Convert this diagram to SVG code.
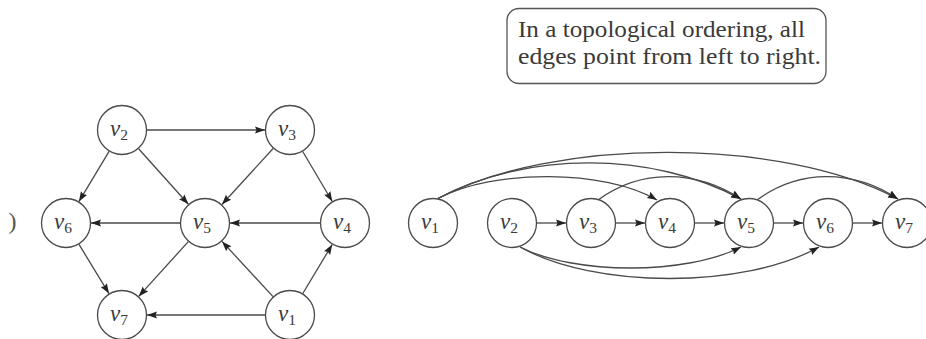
<svg xmlns="http://www.w3.org/2000/svg" width="926" height="339" viewBox="0 0 926 339">
  <style>
    .node circle { fill: #fff; stroke: #4a4a4a; stroke-width: 1.3; }
    .lbl { font-family: "Liberation Serif", "Times New Roman", serif; font-style: italic; font-size: 23px; fill: #3a3a3a; }
    .sub { font-style: normal; font-size: 15.5px; }
    .edges path, .edges line { fill: none; stroke: #4a4a4a; stroke-width: 1.3; marker-end: url(#arr); }
    .note rect { fill: #fff; stroke: #555; stroke-width: 1.3; }
    .note text { font-family: "Liberation Serif", "Times New Roman", serif; font-size: 22.5px; fill: #3a3a3a; }
    .cap { font-family: "Liberation Serif", "Times New Roman", serif; font-size: 24px; fill: #555; }
  </style>
  <defs>
    <marker id="arr" markerUnits="userSpaceOnUse" markerWidth="10" markerHeight="8" refX="10" refY="4" orient="auto">
      <path d="M0,0.4 L10,4 L0,7.6 L1.5,4 z" fill="#222"/>
    </marker>
  </defs>
  <rect width="926" height="339" fill="#fff"/>

  <!-- partial sub-figure caption at the left border -->
  <text class="cap" x="8.5" y="229">)</text>

  <!-- connectors -->
  <g class="edges" id="edges">
    <!-- left drawing: free layout -->
    <line x1="147" y1="130" x2="265" y2="130"/>
    <line x1="109.1" y1="151.4" x2="78.9" y2="201.6"/>
    <line x1="138.6" y1="148.7" x2="188.4" y2="204.3"/>
    <line x1="273.1" y1="148.5" x2="221.9" y2="204.5"/>
    <line x1="302.7" y1="151.5" x2="332.3" y2="201.5"/>
    <line x1="180" y1="223" x2="91" y2="223"/>
    <line x1="320" y1="223" x2="230" y2="223"/>
    <line x1="79" y1="244.4" x2="109" y2="293.6"/>
    <line x1="188.3" y1="241.6" x2="138.7" y2="296.4"/>
    <line x1="273" y1="296.6" x2="222" y2="241.4"/>
    <line x1="302.8" y1="293.5" x2="332.2" y2="244.5"/>
    <line x1="265" y1="315" x2="147" y2="315"/>

    <!-- right drawing: topological order, straight neighbours -->
    <line x1="537" y1="223" x2="566" y2="223"/>
    <line x1="616" y1="223" x2="645" y2="223"/>
    <line x1="695" y1="223" x2="724" y2="223"/>
    <line x1="774" y1="223" x2="803" y2="223"/>
    <line x1="853" y1="223" x2="882" y2="223"/>
    <!-- arcs above -->
    <path d="M438,198.5 C493,169 605,169 657,200"/>
    <path d="M438,198.5 C526,151 652,151 741,199"/>
    <path d="M438,198.5 C553,137 782,137 898,199"/>
    <path d="M598,200 C640,169 695,169 741,199"/>
    <path d="M757,200 C799,169 853,169 898,199"/>
    <!-- arcs below -->
    <path d="M520,247 C575,275 686,275 741,247"/>
    <path d="M520,247 C595,289 744,289 819,247"/>
  </g>

  <!-- left drawing nodes -->
  <g class="node" id="L-v1"><circle cx="290" cy="315" r="24.5"/><text class="lbl" x="278" y="321">v<tspan class="sub" dy="3.5">1</tspan></text></g>
  <g class="node" id="L-v2"><circle cx="122" cy="130" r="24.5"/><text class="lbl" x="110" y="136">v<tspan class="sub" dy="3.5">2</tspan></text></g>
  <g class="node" id="L-v3"><circle cx="290" cy="130" r="24.5"/><text class="lbl" x="278" y="136">v<tspan class="sub" dy="3.5">3</tspan></text></g>
  <g class="node" id="L-v4"><circle cx="345" cy="223" r="24.5"/><text class="lbl" x="333" y="229">v<tspan class="sub" dy="3.5">4</tspan></text></g>
  <g class="node" id="L-v5"><circle cx="205" cy="223" r="24.5"/><text class="lbl" x="193" y="229">v<tspan class="sub" dy="3.5">5</tspan></text></g>
  <g class="node" id="L-v6"><circle cx="66" cy="223" r="24.5"/><text class="lbl" x="54" y="229">v<tspan class="sub" dy="3.5">6</tspan></text></g>
  <g class="node" id="L-v7"><circle cx="122" cy="315" r="24.5"/><text class="lbl" x="110" y="321">v<tspan class="sub" dy="3.5">7</tspan></text></g>

  <!-- right drawing nodes -->
  <g class="node" id="R-v1"><circle cx="433" cy="223" r="24.5"/><text class="lbl" x="421" y="229">v<tspan class="sub" dy="3.5">1</tspan></text></g>
  <g class="node" id="R-v2"><circle cx="512" cy="223" r="24.5"/><text class="lbl" x="500" y="229">v<tspan class="sub" dy="3.5">2</tspan></text></g>
  <g class="node" id="R-v3"><circle cx="591" cy="223" r="24.5"/><text class="lbl" x="579" y="229">v<tspan class="sub" dy="3.5">3</tspan></text></g>
  <g class="node" id="R-v4"><circle cx="670" cy="223" r="24.5"/><text class="lbl" x="658" y="229">v<tspan class="sub" dy="3.5">4</tspan></text></g>
  <g class="node" id="R-v5"><circle cx="749" cy="223" r="24.5"/><text class="lbl" x="737" y="229">v<tspan class="sub" dy="3.5">5</tspan></text></g>
  <g class="node" id="R-v6"><circle cx="828" cy="223" r="24.5"/><text class="lbl" x="816" y="229">v<tspan class="sub" dy="3.5">6</tspan></text></g>
  <g class="node" id="R-v7"><circle cx="907" cy="223" r="24.5"/><text class="lbl" x="895" y="229">v<tspan class="sub" dy="3.5">7</tspan></text></g>

  <!-- callout -->
  <g class="note" id="note">
    <rect x="507" y="8.5" width="319" height="75" rx="12" ry="12"/>
    <text x="518" y="37" textLength="287" lengthAdjust="spacingAndGlyphs">In a topological ordering, all</text>
    <text x="518" y="64" textLength="303" lengthAdjust="spacingAndGlyphs">edges point from left to right.</text>
  </g>
</svg>
